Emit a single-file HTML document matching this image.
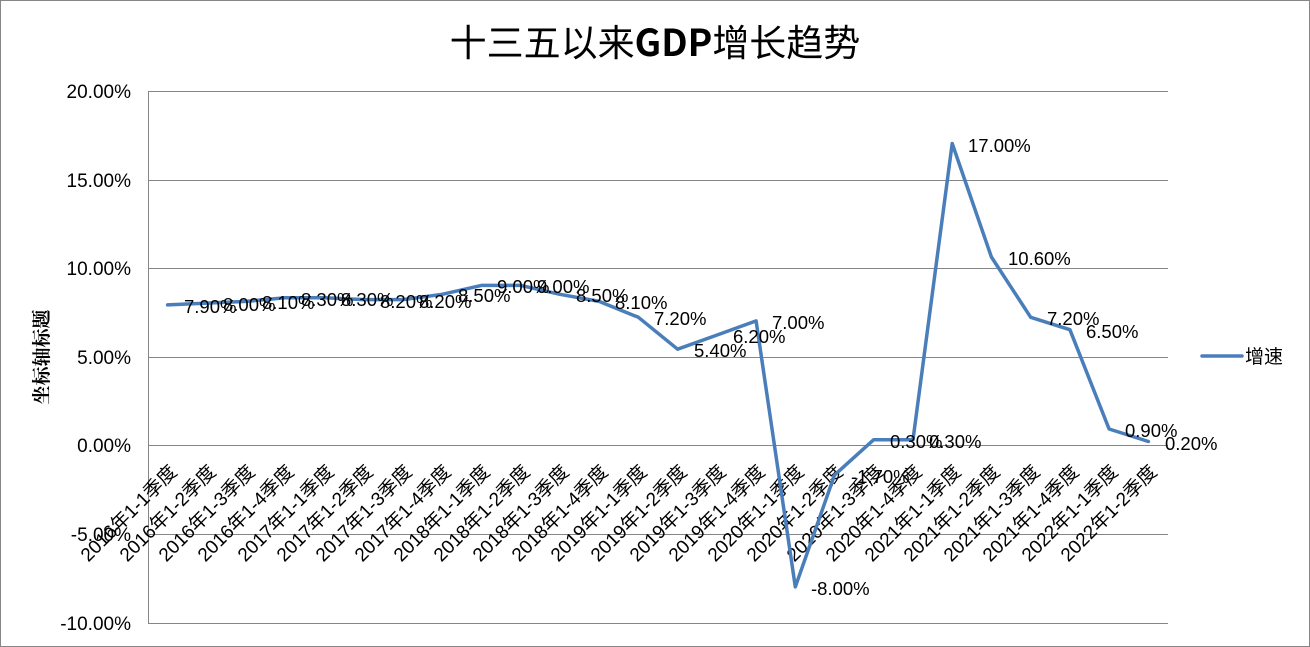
<!DOCTYPE html>
<html><head><meta charset="utf-8"><style>
html,body{margin:0;padding:0;background:#fff}
svg{display:block}
text{font-family:"Liberation Sans","Noto Sans CJK SC",sans-serif;fill:#000}
</style></head><body>
<svg width="1310" height="647" viewBox="0 0 1310 647" xmlns="http://www.w3.org/2000/svg">
<rect x="0.5" y="0.5" width="1309" height="646" fill="#fff" stroke="#868686"/>
<text x="655" y="56" font-size="37" text-anchor="middle" style="font-family:'Noto Sans CJK SC',sans-serif">十三五以来<tspan font-weight="bold">GDP</tspan>增长趋势</text>
<g stroke="#868686" stroke-width="1">
<line x1="148" y1="91.5" x2="1168" y2="91.5"/>
<line x1="148" y1="180.5" x2="1168" y2="180.5"/>
<line x1="148" y1="268.5" x2="1168" y2="268.5"/>
<line x1="148" y1="357.5" x2="1168" y2="357.5"/>
<line x1="148" y1="445.5" x2="1168" y2="445.5"/>
<line x1="148" y1="534.5" x2="1168" y2="534.5"/>
<line x1="148" y1="623.5" x2="1168" y2="623.5"/>
<line x1="148.5" y1="91" x2="148.5" y2="623"/>
</g>
<g font-size="19" text-anchor="end">
<text x="131" y="98">20.00%</text>
<text x="131" y="187">15.00%</text>
<text x="131" y="275">10.00%</text>
<text x="131" y="364">5.00%</text>
<text x="131" y="452">0.00%</text>
<text x="131" y="541">-5.00%</text>
<text x="131" y="630">-10.00%</text>
</g>
<text transform="translate(48,357) rotate(-90)" font-size="19" font-weight="bold" text-anchor="middle" style="font-family:'Noto Serif CJK SC',serif">坐标轴标题</text>
<g font-size="19" text-anchor="end">
<text transform="translate(173,468) rotate(-45)" dy="7">2016年1-1季度</text>
<text transform="translate(212,468) rotate(-45)" dy="7">2016年1-2季度</text>
<text transform="translate(251,468) rotate(-45)" dy="7">2016年1-3季度</text>
<text transform="translate(290,468) rotate(-45)" dy="7">2016年1-4季度</text>
<text transform="translate(330,468) rotate(-45)" dy="7">2017年1-1季度</text>
<text transform="translate(369,468) rotate(-45)" dy="7">2017年1-2季度</text>
<text transform="translate(408,468) rotate(-45)" dy="7">2017年1-3季度</text>
<text transform="translate(447,468) rotate(-45)" dy="7">2017年1-4季度</text>
<text transform="translate(486,468) rotate(-45)" dy="7">2018年1-1季度</text>
<text transform="translate(526,468) rotate(-45)" dy="7">2018年1-2季度</text>
<text transform="translate(565,468) rotate(-45)" dy="7">2018年1-3季度</text>
<text transform="translate(604,468) rotate(-45)" dy="7">2018年1-4季度</text>
<text transform="translate(643,468) rotate(-45)" dy="7">2019年1-1季度</text>
<text transform="translate(683,468) rotate(-45)" dy="7">2019年1-2季度</text>
<text transform="translate(722,468) rotate(-45)" dy="7">2019年1-3季度</text>
<text transform="translate(761,468) rotate(-45)" dy="7">2019年1-4季度</text>
<text transform="translate(800,468) rotate(-45)" dy="7">2020年1-1季度</text>
<text transform="translate(839,468) rotate(-45)" dy="7">2020年1-2季度</text>
<text transform="translate(879,468) rotate(-45)" dy="7">2020年1-3季度</text>
<text transform="translate(918,468) rotate(-45)" dy="7">2020年1-4季度</text>
<text transform="translate(957,468) rotate(-45)" dy="7">2021年1-1季度</text>
<text transform="translate(996,468) rotate(-45)" dy="7">2021年1-2季度</text>
<text transform="translate(1036,468) rotate(-45)" dy="7">2021年1-3季度</text>
<text transform="translate(1075,468) rotate(-45)" dy="7">2021年1-4季度</text>
<text transform="translate(1114,468) rotate(-45)" dy="7">2022年1-1季度</text>
<text transform="translate(1153,468) rotate(-45)" dy="7">2022年1-2季度</text>
</g>
<polyline fill="none" stroke="#4a7ebb" stroke-width="3.5" stroke-linejoin="round" stroke-linecap="round" points="167.6,304.9 206.8,303.1 246.1,301.4 285.3,297.8 324.5,297.8 363.8,299.6 403,299.6 442.2,294.3 481.4,285.4 520.7,285.4 559.9,294.3 599.1,301.4 638.4,317.3 677.6,349.2 716.8,335.1 756.1,320.9 795.3,586.9 834.5,475.1 873.7,439.7 913,439.7 952.2,143.5 991.4,257 1030.7,317.3 1069.9,329.7 1109.1,429 1148.4,441.5"/>
<g font-size="18.5">
<text x="184" y="313">7.90%</text>
<text x="223" y="311">8.00%</text>
<text x="262" y="309">8.10%</text>
<text x="301" y="306">8.30%</text>
<text x="341" y="306">8.30%</text>
<text x="380" y="308">8.20%</text>
<text x="419" y="308">8.20%</text>
<text x="458" y="302">8.50%</text>
<text x="497" y="293">9.00%</text>
<text x="537" y="293">9.00%</text>
<text x="576" y="302">8.50%</text>
<text x="615" y="309">8.10%</text>
<text x="654" y="325">7.20%</text>
<text x="694" y="357">5.40%</text>
<text x="733" y="343">6.20%</text>
<text x="772" y="329">7.00%</text>
<text x="811" y="595">-8.00%</text>
<text x="851" y="483">-1.70%</text>
<text x="890" y="448">0.30%</text>
<text x="929" y="448">0.30%</text>
<text x="968" y="152">17.00%</text>
<text x="1008" y="265">10.60%</text>
<text x="1047" y="325">7.20%</text>
<text x="1086" y="338">6.50%</text>
<text x="1125" y="437">0.90%</text>
<text x="1165" y="450">0.20%</text>
</g>
<line x1="1202" y1="356" x2="1242" y2="356" stroke="#4a7ebb" stroke-width="3.5" stroke-linecap="round"/>
<text x="1245" y="363" font-size="19">增速</text>
</svg>
</body></html>
